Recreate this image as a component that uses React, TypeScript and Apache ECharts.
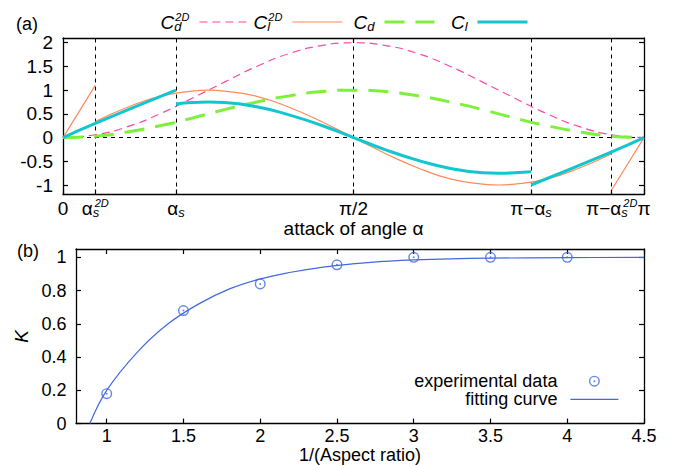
import React, { useEffect, useRef } from "react";
import * as echarts from "echarts";

const FONT = "'Liberation Sans', Arial, Helvetica, sans-serif";

// ---------- panel (a) : angles in degrees ----------
const X_TICKS = [0, 10, 35, 90, 145, 170, 180];
const X_TICK_LABELS = [
  "0",
  "{a|α}{sw|s}{sup|2D}",
  "{a|α}{s|s}",
  "π/2",
  "{p|π−}{a|α}{s|s}",
  "{p|π−}{a|α}{sw|s}{sup|2D}",
  "π",
];
const REF_X = [10, 35, 90, 145, 170];
const Y_TICKS_A = [-1, -0.5, 0, 0.5, 1, 1.5, 2];

const DEG = [0, 10, 20, 30, 40, 50, 60, 70, 80, 90, 100, 110, 120, 130, 140, 150, 160, 170, 180];
const CD2D = [0, 0.06, 0.23, 0.5, 0.83, 1.17, 1.5, 1.77, 1.94, 2, 1.94, 1.77, 1.5, 1.17, 0.83, 0.5, 0.23, 0.06, 0];
const CD = [0, 0.03, 0.12, 0.25, 0.41, 0.59, 0.75, 0.88, 0.97, 1, 0.97, 0.88, 0.75, 0.59, 0.41, 0.25, 0.12, 0.03, 0];

const CL2D_PRE_X = [0, 10];
const CL2D_PRE = [0, 1.1];
const CL2D_MID_X = [10, 20, 30, 40, 45, 50, 60, 70, 80, 90, 100, 110, 120, 130, 135, 140, 150, 160, 170];
const CL2D_MID = [0.34, 0.64, 0.87, 0.98, 1, 0.98, 0.87, 0.64, 0.34, 0, -0.34, -0.64, -0.87, -0.98, -1, -0.98, -0.87, -0.64, -0.34];
const CL2D_POST_X = [170, 180];
const CL2D_POST = [-1.1, 0];

const CL_PRE_X = [0, 10, 35];
const CL_PRE = [0, 0.3, 1.0];
const CL_MID_X = [35, 40, 45, 50, 60, 70, 80, 90, 100, 110, 120, 130, 135, 140, 145];
const CL_MID = [0.71, 0.74, 0.75, 0.74, 0.65, 0.48, 0.26, 0, -0.26, -0.48, -0.65, -0.74, -0.75, -0.74, -0.72];
const CL_POST_X = [145, 170, 180];
const CL_POST = [-1.0, -0.3, 0];

// ---------- panel (b) ----------
const AR = [1, 1.5, 2, 2.5, 3, 3.5, 4];
const K_EXP = [0.18, 0.68, 0.84, 0.955, 1.0, 1.0, 1.0];
const FIT_X = [0.89, 1.0, 1.2, 1.4, 1.6, 1.8, 2.0, 2.2, 2.4, 2.6, 2.8, 3.0, 3.5, 4.0, 4.5];
const FIT_K = [0, 0.2, 0.43, 0.6, 0.72, 0.81, 0.87, 0.91, 0.94, 0.96, 0.975, 0.985, 0.995, 0.998, 1.0];
const X_TICKS_B = [1, 1.5, 2, 2.5, 3, 3.5, 4, 4.5];
const Y_TICKS_B = [0, 0.2, 0.4, 0.6, 0.8, 1];

const PINK = "#ff46a8";
const ORANGE = "#ff8a58";
const GREEN = "#7cf03a";
const CYAN = "#12c6cf";
const BLUE = "#4169e1";

const RING =
  "path://M0,10 A10,10 0 1,1 20,10 A10,10 0 1,1 0,10 Z M2.6,10 A7.4,7.4 0 1,0 17.4,10 A7.4,7.4 0 1,0 2.6,10 Z M8.2,10 A1.8,1.8 0 1,1 11.8,10 A1.8,1.8 0 1,1 8.2,10 Z";

function pairs(xs: number[], ys: number[]) {
  return xs.map((x, i) => [x, ys[i]]);
}
function segments(parts: [number[], number[]][]) {
  const out: any[] = [];
  parts.forEach(([xs, ys], i) => {
    if (i > 0) out.push([xs[0], "-"]);
    xs.forEach((x, j) => out.push([x, ys[j]]));
  });
  return out;
}

const LEG_NAMES: Record<string, string> = {
  Cd2D: "{c|C}{subw|d}{sup|2D}",
  Cl2D: "{c|C}{subw|l}{sup|2D}",
  Cd: "{c|C}{sub|d}",
  Cl: "{c|C}{sub|l}",
};

const tok = (o: any) => ({ align: "left", fontFamily: FONT, color: "#000", ...o });

const richLegend = {
  c: tok({ fontSize: 19, lineHeight: 22, fontStyle: "italic" }),
  sub: tok({ fontSize: 13, lineHeight: 13, fontStyle: "italic", verticalAlign: "bottom" }),
  subw: tok({ fontSize: 13, lineHeight: 13, fontStyle: "italic", verticalAlign: "bottom", width: 1 }),
  sup: tok({ fontSize: 11, lineHeight: 12, fontStyle: "italic", verticalAlign: "top" }),
};

const richAxis = {
  p: tok({ fontSize: 19, lineHeight: 21 }),
  a: tok({ fontSize: 19, lineHeight: 21 }),
  s: tok({ fontSize: 13, lineHeight: 12, fontStyle: "italic", verticalAlign: "bottom" }),
  sw: tok({ fontSize: 13, lineHeight: 12, fontStyle: "italic", verticalAlign: "bottom", width: 2 }),
  sup: tok({ fontSize: 11, lineHeight: 12, fontStyle: "italic", verticalAlign: "top" }),
};

const axisLine = { show: true, onZero: false, lineStyle: { color: "#000", width: 1.3 } };
const tickIn = (vals: number[]) => ({ show: true, inside: true, length: 5, customValues: vals, lineStyle: { color: "#000", width: 1.2 } });

function buildOption() {
  const topLegend = (name: string, iconEnd: number, width: number) => ({
    data: [{ name, itemStyle: { opacity: 0 } }],
    orient: "horizontal",
    align: "right",
    top: 11,
    right: 675 - iconEnd,
    padding: 0,
    itemWidth: 50,
    itemHeight: 12,
    selectedMode: false,
    itemStyle: { opacity: 0 },
    lineStyle: { width },
    formatter: (n: string) => LEG_NAMES[n] ?? n,
    textStyle: { fontSize: 19, lineHeight: 22, fontFamily: FONT, color: "#000", padding: [0, 5, 0, 0], rich: richLegend },
  });

  return {
    animation: false,
    textStyle: { fontFamily: FONT, color: "#000" },
    title: [
      { text: "(a)", left: 16, top: 14, padding: 0, textStyle: { fontSize: 18, fontWeight: "normal", lineHeight: 20, fontFamily: FONT, color: "#000" } },
      { text: "(b)", left: 17, top: 241, padding: 0, textStyle: { fontSize: 18, fontWeight: "normal", lineHeight: 20, fontFamily: FONT, color: "#000" } },
    ],
    legend: [
      topLegend("Cd2D", 250, 1.2),
      topLegend("Cl2D", 343, 1.2),
      topLegend("Cd", 436, 3),
      topLegend("Cl", 529, 3),
      {
        data: [{ name: "experimental data" }, { name: "fitting curve", itemStyle: { opacity: 0 } }],
        orient: "vertical",
        align: "right",
        right: 56,
        top: 372,
        padding: 0,
        itemGap: 0,
        itemWidth: 48,
        itemHeight: 11,
        selectedMode: false,
        lineStyle: { width: 1.2 },
        textStyle: { fontSize: 18, lineHeight: 18.3, fontFamily: FONT, color: "#000", padding: [0, 8, 0, 0] },
      },
    ],
    grid: [
      { left: 63, right: 31, top: 38, height: 156.5 },
      { left: 76, right: 31, top: 249, height: 175 },
    ],
    xAxis: [
      {
        type: "value",
        gridIndex: 0,
        min: 0,
        max: 180,
        position: "bottom",
        axisLine,
        axisTick: tickIn(X_TICKS),
        splitLine: { show: false },
        axisLabel: {
          customValues: X_TICKS,
          margin: 3,
          fontSize: 19,
          lineHeight: 21,
          color: "#000",
          fontFamily: FONT,
          rich: richAxis,
          formatter: (v: number) => {
            const i = X_TICKS.findIndex((t) => Math.abs(t - v) < 0.5);
            return i >= 0 ? X_TICK_LABELS[i] : "";
          },
        },
        name: "attack of angle α",
        nameLocation: "middle",
        nameGap: 22,
        nameTextStyle: { fontSize: 19, lineHeight: 18, color: "#000", fontFamily: FONT },
      },
      {
        type: "value",
        gridIndex: 0,
        min: 0,
        max: 180,
        position: "top",
        axisLine,
        axisTick: tickIn([90]),
        axisLabel: { show: false, customValues: [90] },
        splitLine: { show: false },
      },
      {
        type: "value",
        gridIndex: 1,
        min: 0.8,
        max: 4.5,
        position: "bottom",
        axisLine,
        axisTick: tickIn(X_TICKS_B),
        splitLine: { show: false },
        axisLabel: { customValues: X_TICKS_B, margin: 3.5, fontSize: 18, lineHeight: 18, color: "#000", fontFamily: FONT },
        name: "1/(Aspect ratio)",
        nameLocation: "middle",
        nameGap: 22,
        nameTextStyle: { fontSize: 18, lineHeight: 18, color: "#000", fontFamily: FONT },
      },
      {
        type: "value",
        gridIndex: 1,
        min: 0.8,
        max: 4.5,
        position: "top",
        axisLine,
        axisTick: tickIn(X_TICKS_B),
        axisLabel: { show: false, customValues: X_TICKS_B },
        splitLine: { show: false },
      },
    ],
    yAxis: [
      {
        type: "value",
        gridIndex: 0,
        min: -1.2,
        max: 2.1,
        position: "left",
        axisLine,
        axisTick: tickIn(Y_TICKS_A),
        splitLine: { show: false },
        axisLabel: { customValues: Y_TICKS_A, margin: 10, fontSize: 19, color: "#000", fontFamily: FONT },
      },
      {
        type: "value",
        gridIndex: 0,
        min: -1.2,
        max: 2.1,
        position: "right",
        axisLine,
        axisTick: tickIn(Y_TICKS_A),
        axisLabel: { show: false, customValues: Y_TICKS_A },
        splitLine: { show: false },
      },
      {
        type: "value",
        gridIndex: 1,
        min: 0,
        max: 1.05,
        position: "left",
        axisLine,
        axisTick: tickIn(Y_TICKS_B),
        splitLine: { show: false },
        axisLabel: { customValues: Y_TICKS_B, margin: 9.5, fontSize: 18, color: "#000", fontFamily: FONT },
        name: "K",
        nameLocation: "middle",
        nameGap: 37,
        nameTextStyle: { fontSize: 19, fontStyle: "italic", color: "#000", fontFamily: FONT },
      },
      {
        type: "value",
        gridIndex: 1,
        min: 0,
        max: 1.05,
        position: "right",
        axisLine,
        axisTick: tickIn(Y_TICKS_B),
        axisLabel: { show: false, customValues: Y_TICKS_B },
        splitLine: { show: false },
      },
    ],
    series: [
      {
        name: "ref",
        type: "line",
        xAxisIndex: 0,
        yAxisIndex: 0,
        data: [[0, 0]],
        symbol: "none",
        z: 1,
        silent: true,
        lineStyle: { opacity: 0 },
        markLine: {
          silent: true,
          symbol: ["none", "none"],
          label: { show: false },
          z: 1,
          lineStyle: { color: "#000", type: [4, 4], width: 1 },
          emphasis: { disabled: true },
          data: [...REF_X.map((x) => ({ xAxis: x })), { yAxis: 0 }],
        },
      },
      {
        name: "Cd2D",
        type: "line",
        xAxisIndex: 0,
        yAxisIndex: 0,
        data: pairs(DEG, CD2D),
        smooth: true,
        symbol: "none",
        z: 3,
        color: PINK,
        lineStyle: { color: PINK, width: 1.2, type: [8, 5] },
      },
      {
        name: "Cl2D",
        type: "line",
        xAxisIndex: 0,
        yAxisIndex: 0,
        data: segments([
          [CL2D_PRE_X, CL2D_PRE],
          [CL2D_MID_X, CL2D_MID],
          [CL2D_POST_X, CL2D_POST],
        ]),
        smooth: true,
        connectNulls: false,
        symbol: "none",
        z: 4,
        color: ORANGE,
        lineStyle: { color: ORANGE, width: 1.2 },
      },
      {
        name: "Cd",
        type: "line",
        xAxisIndex: 0,
        yAxisIndex: 0,
        data: pairs(DEG, CD),
        smooth: true,
        symbol: "none",
        z: 5,
        color: GREEN,
        lineStyle: { color: GREEN, width: 3, type: [20, 11] },
      },
      {
        name: "Cl",
        type: "line",
        xAxisIndex: 0,
        yAxisIndex: 0,
        data: segments([
          [CL_PRE_X, CL_PRE],
          [CL_MID_X, CL_MID],
          [CL_POST_X, CL_POST],
        ]),
        smooth: true,
        connectNulls: false,
        symbol: "none",
        z: 6,
        color: CYAN,
        lineStyle: { color: CYAN, width: 3 },
      },
      {
        name: "experimental data",
        type: "scatter",
        xAxisIndex: 2,
        yAxisIndex: 2,
        data: pairs(AR, K_EXP),
        symbol: RING,
        symbolSize: 11,
        symbolKeepAspect: true,
        z: 4,
        color: BLUE,
        itemStyle: { color: BLUE },
      },
      {
        name: "fitting curve",
        type: "line",
        xAxisIndex: 2,
        yAxisIndex: 2,
        data: pairs(FIT_X, FIT_K),
        smooth: 0.4,
        symbol: "none",
        z: 3,
        color: BLUE,
        lineStyle: { color: BLUE, width: 1.2 },
      },
    ],
  };
}

export default function App() {
  const ref = useRef<HTMLDivElement>(null);
  useEffect(() => {
    document.body.style.margin = "0";
    const chart = echarts.init(ref.current as HTMLDivElement, null, { renderer: "svg" });
    chart.setOption(buildOption() as any);
    return () => chart.dispose();
  }, []);
  return <div ref={ref} style={{ width: 675, height: 465 }} />;
}
